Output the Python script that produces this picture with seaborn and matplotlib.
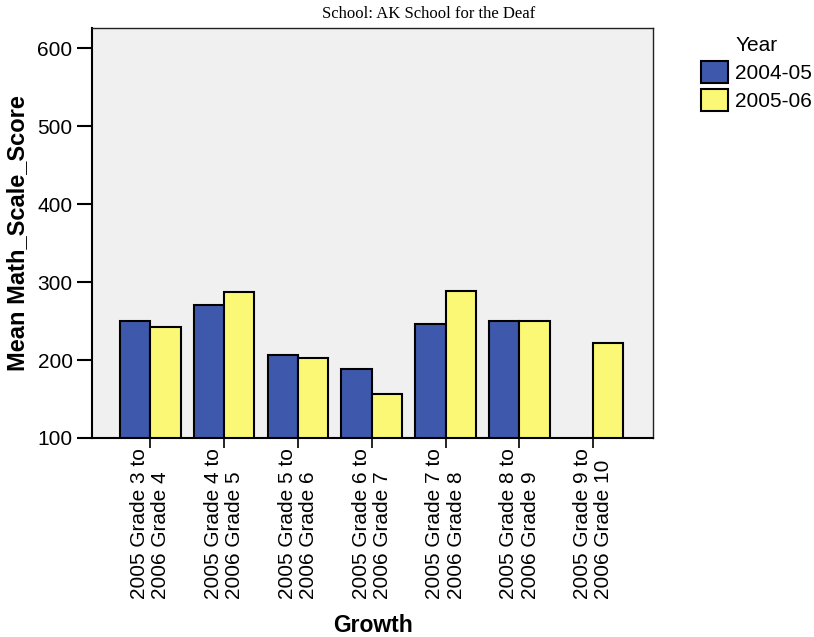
import numpy as np
import pandas as pd
import seaborn as sns
import matplotlib.pyplot as plt

# Values
growth = [
    "2005 Grade 3 to\n2006 Grade 4",
    "2005 Grade 4 to\n2006 Grade 5",
    "2005 Grade 5 to\n2006 Grade 6",
    "2005 Grade 6 to\n2006 Grade 7",
    "2005 Grade 7 to\n2006 Grade 8",
    "2005 Grade 8 to\n2006 Grade 9",
    "2005 Grade 9 to\n2006 Grade 10",
]
years = ["2004-05", "2005-06"]
score_0405 = [250, 270, 206, 188, 246, 250, np.nan]
score_0506 = [243, 287, 203, 157, 289, 250, 222]

df = pd.DataFrame({
    "Growth": growth * 2,
    "Year": [years[0]] * len(growth) + [years[1]] * len(growth),
    "Mean Math_Scale_Score": score_0405 + score_0506,
})

sns.set_style("white")
plt.rcParams["font.family"] = ["Liberation Sans", "DejaVu Sans"]
plt.rcParams["text.color"] = "black"
plt.rcParams["axes.labelcolor"] = "black"
plt.rcParams["xtick.color"] = "black"
plt.rcParams["ytick.color"] = "black"

fig = plt.figure(figsize=(8.14, 6.37), dpi=100)
ax = fig.add_axes([92 / 814, 1 - 438 / 637, 561 / 814, 410 / 637])
ax.set_facecolor("#F0F0F0")

sns.barplot(data=df, x="Growth", y="Mean Math_Scale_Score", hue="Year",
            hue_order=years, order=growth, palette=["#3E58AC", "#FBF875"],
            width=0.82, edgecolor="black", linewidth=1.5, saturation=1,
            errorbar=None, ax=ax)

ax.set_ylim(100, 626)
ax.set_xlim(-0.79, 6.81)
ax.set_yticks([100, 200, 300, 400, 500, 600])

for s in ["top", "right"]:
    ax.spines[s].set_color("#222222")
    ax.spines[s].set_linewidth(1.0)
for s in ["left", "bottom"]:
    ax.spines[s].set_color("black")
    ax.spines[s].set_linewidth(1.5)

ax.tick_params(axis="y", direction="out", length=11, width=1.5, pad=3,
               labelsize=15, left=True, colors="black")
ax.tick_params(axis="x", direction="out", length=7.5, width=1.2, pad=0,
               labelsize=15, bottom=True, colors="black")
for lab in ax.get_xticklabels():
    lab.set_rotation(90)
    lab.set_ha("center")
    lab.set_va("top")
    lab.set_multialignment("left")
    lab.set_linespacing(1.15)

ax.set_ylabel("Mean Math_Scale_Score", fontsize=17, fontweight="bold")
ax.yaxis.set_label_coords(-0.112, 0.5)
ax.set_xlabel("Growth", fontsize=16.5, fontweight="bold")
ax.xaxis.set_label_coords(0.5, -0.43)

fig.text(429 / 814, 1 - 14 / 637, "School: AK School for the Deaf",
         family="Liberation Serif", fontsize=12, ha="center", va="center",
         color="black")

handles, labels = ax.get_legend_handles_labels()
leg = ax.legend(handles, labels, title="Year", loc="upper left",
                bbox_to_anchor=(701 / 814, 1 - 36 / 637),
                bbox_transform=fig.transFigure,
                frameon=False, fontsize=15, title_fontsize=15, borderpad=0,
                borderaxespad=0, handlelength=1.3, handleheight=1.2,
                handletextpad=0.35, labelspacing=0.3)
for t in leg.get_texts():
    t.set_color("black")
leg.get_title().set_color("black")

fig.savefig("out.png", dpi=100)
